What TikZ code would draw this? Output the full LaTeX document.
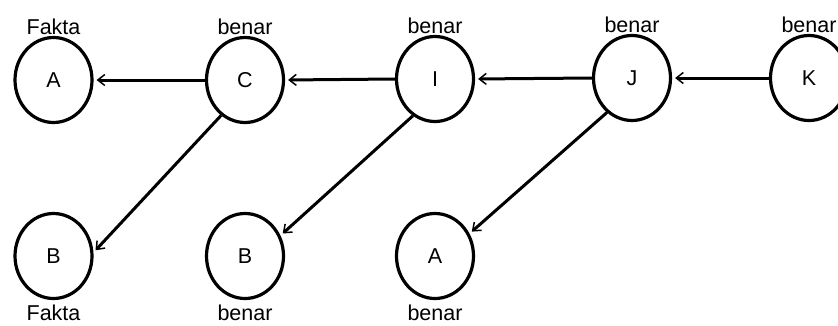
\documentclass[tikz,border=0pt]{standalone}
\usepackage{fontspec}
\setmainfont{Liberation Sans}
\usetikzlibrary{arrows.meta,shapes.geometric}

\tikzset{
	goal/.style={ellipse, draw, line width=3.2pt, minimum width=77pt, minimum height=85pt, inner sep=0pt},
	every label/.style={label distance=-2.5pt},
	under/.style={label={[label distance=1pt]below:#1}},
	link/.style={line width=3pt, shorten >=3pt, -{Straight Barb[length=7pt,width=11pt,line width=1.5pt]}}
}

\begin{document}
\begin{tikzpicture}[x=1pt, y=-1pt, font=\fontsize{21.5}{25}\selectfont]
			%%%%% START %%%%%
			\useasboundingbox (0, 0) rectangle (838, 325);
			
			% top row
			\node[goal, label=above:Fakta] (A) at (53.5, 80) {A};
			\node[goal, label=above:benar] (C) at (245, 80) {C};
			\node[goal, label=above:benar] (I) at (435, 79) {I};
			\node[goal, label=above:benar] (J) at (632, 78) {J};
			\node[goal, label=above:benar] (K) at (809, 78) {K};
			
			% bottom row
			\node[goal, under=Fakta] (B1) at (53.5, 256) {B};
			\node[goal, under=benar] (B2) at (245, 256) {B};
			\node[goal, under=benar] (A2) at (435, 256) {A};
			
			\draw[link] (C.west) -- (A.east);
			\draw[link] (I.west) -- (C.east);
			\draw[link] (J.west) -- (I.east);
			\draw[link] (K.west) -- (J.east);
			
			\draw[link] (C.236) -- (B1.5);
			\draw[link] (I.239) -- (B2.30);
			\draw[link] (J.234) -- (A2.33);
			
			%%%%% END %%%%%
		\end{tikzpicture}
\end{document}
